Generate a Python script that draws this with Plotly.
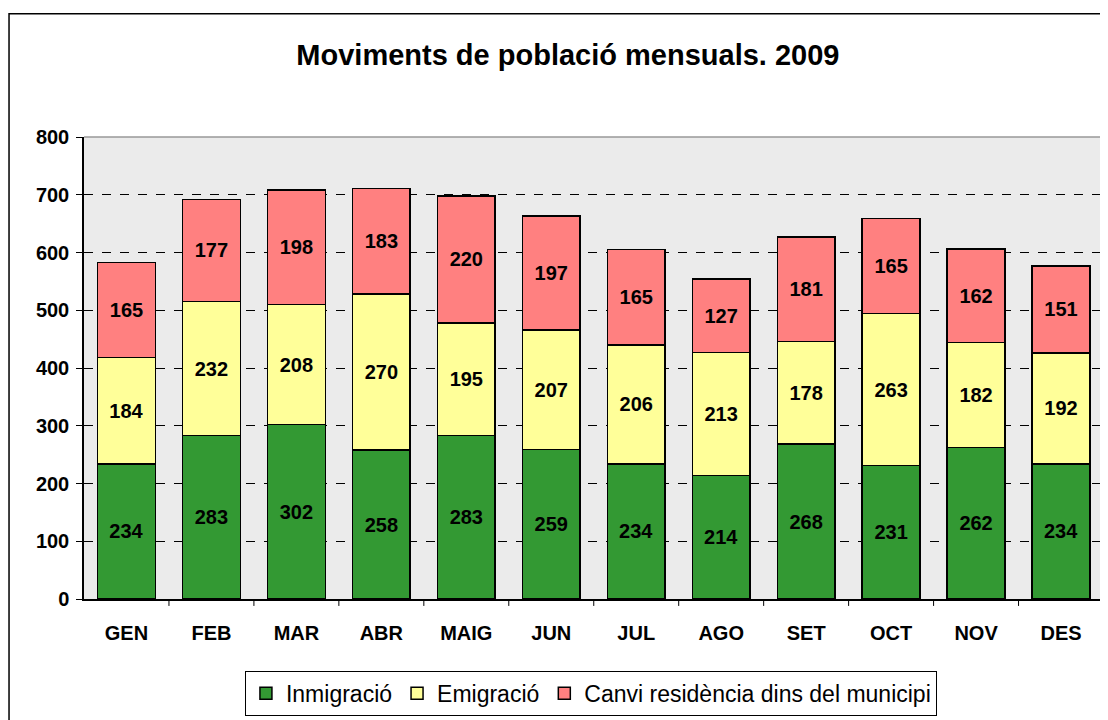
import plotly.graph_objects as go

months = ["GEN", "FEB", "MAR", "ABR", "MAIG", "JUN", "JUL", "AGO", "SET", "OCT", "NOV", "DES"]
inmigracio = [234, 283, 302, 258, 283, 259, 234, 214, 268, 231, 262, 234]
emigracio = [184, 232, 208, 270, 195, 207, 206, 213, 178, 263, 182, 192]
canvi = [165, 177, 198, 183, 220, 197, 165, 127, 181, 165, 162, 151]
y_ticks = [0, 100, 200, 300, 400, 500, 600, 700, 800]

series = [
    ("Inmigració", inmigracio, "#339933"),
    ("Emigració", emigracio, "#FFFF99"),
    ("Canvi residència dins del municipi", canvi, "#FF8080"),
]

FONT = "Arial, Liberation Sans"

fig = go.Figure()
for name, vals, col in series:
    fig.add_trace(go.Bar(
        x=months, y=vals, name=name,
        marker=dict(color=col, line=dict(color="black", width=1.5)),
        text=[str(v) for v in vals], textposition="inside", insidetextanchor="middle",
        textfont=dict(family=FONT, size=20, color="black", weight="bold"),
        textangle=0, cliponaxis=False,
    ))

fig.update_layout(
    barmode="stack", bargap=0.32,
    width=1100, height=712,
    margin=dict(l=76, r=4, t=129, b=118),
    paper_bgcolor="white", plot_bgcolor="#ebebeb",
    font=dict(family=FONT, color="black"),
    title=dict(text="<b>Moviments de població mensuals. 2009</b>", x=0.509, xanchor="center",
               y=0.934, yanchor="middle", font=dict(size=29, family=FONT)),
    showlegend=True,
    legend=dict(orientation="h", x=0.497, xanchor="center", y=-0.204, yanchor="middle",
                bordercolor="black", borderwidth=1, bgcolor="white",
                font=dict(size=23, family=FONT),
                traceorder="normal", itemwidth=30, tracegroupgap=0),
    uniformtext=dict(mode=False),
)
fig.update_xaxes(showline=True, linecolor="black", linewidth=1.5, ticks="", showgrid=False,
                 tickfont=dict(size=20, weight="bold"), ticklabelstandoff=15)
fig.update_yaxes(range=[0, 800], tickvals=y_ticks, showline=True, linecolor="black", linewidth=1.5,
                 ticks="outside", ticklen=6, tickcolor="black", showgrid=True, gridcolor="black",
                 griddash="dash", gridwidth=1, tickfont=dict(size=20, weight="bold"), zeroline=False,
                 ticklabelstandoff=3)

# tick marks between categories on x-axis
for i in range(1, 13):
    fig.add_shape(type="line", xref="x", yref="paper", x0=i - 0.5, x1=i - 0.5, y0=0, y1=-0.015,
                  line=dict(color="black", width=1))
# plot area top and right border
fig.add_shape(type="line", xref="paper", yref="paper", x0=0, x1=1, y0=1, y1=1,
              line=dict(color="#999999", width=1.5))
fig.add_shape(type="line", xref="paper", yref="paper", x0=1, x1=1, y0=0, y1=1,
              line=dict(color="#999999", width=1.5))
# outer chart border
fig.add_shape(type="rect", xref="paper", yref="paper", x0=-0.0735, x1=1.03, y0=-0.3, y1=1.2667,
              line=dict(color="black", width=1.5), layer="below")

fig.write_html("out.html")
